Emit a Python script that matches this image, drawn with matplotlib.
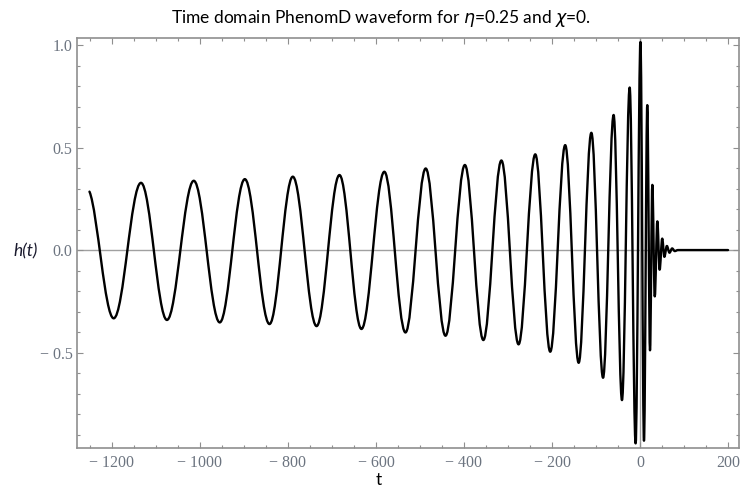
import matplotlib
matplotlib.use('Agg')
import matplotlib.pyplot as plt
from matplotlib.path import Path
from matplotlib.patches import PathPatch

# turning points of h(t): first sample, peaks/troughs, end of ringdown
t_points = [-1251, -1196, -1134, -1075, -1014, -955, -898, -842, -789, -735, -683,
            -633, -581, -533, -487, -442, -398, -356, -315, -276, -238, -204, -170,
            -139.4, -110.6, -84, -60, -41, -23.5, -10, 1, 9, 16.5, 22.7, 28, 33.5,
            39.4, 44.5, 50.5, 55.3, 61, 67, 73, 79, 86, 200]
h_points = [0.285, -0.333, 0.328, -0.341, 0.338, -0.353, 0.346, -0.361, 0.358, -0.371, 0.366,
            -0.385, 0.382, -0.402, 0.398, -0.418, 0.415, -0.439, 0.437, -0.460, 0.467, -0.496, 0.512,
            -0.550, 0.572, -0.623, 0.659, -0.732, 0.793, -0.943, 1.015, -0.930, 0.707, -0.489, 0.318, -0.226,
            0.140, -0.096, 0.056, -0.033, 0.020, -0.013, 0.008, -0.005, 0.0, 0.0]

xticks = [-1200, -1000, -800, -600, -400, -200, 0, 200]
xtick_labels = ['\u2212 1200', '\u2212 1000', '\u2212 800', '\u2212 600', '\u2212 400', '\u2212 200', '0', '200']
yticks = [-0.5, 0.0, 0.5, 1.0]
ytick_labels = ['\u2212 0.5', '0.0', '0.5', '1.0']

FRAME = '#8f8f8f'
LABEL = '#6c7480'


def waveform_path(ts, hs, k=0.3634):
    """Smooth curve through turning points: cubic Bezier segments with flat tangents at the extrema"""
    verts = [(ts[0], hs[0])]
    codes = [Path.MOVETO]
    for i in range(len(ts) - 1):
        t0, h0, t1, h1 = ts[i], hs[i], ts[i + 1], hs[i + 1]
        d = t1 - t0
        if i == 0:
            # first sample sits on a falling flank, not on an extremum
            c1 = (t0 + d / 3, h0 + 0.45 * (h1 - h0) / 3)
        else:
            c1 = (t0 + k * d, h0)
        c2 = (t1 - k * d, h1)
        verts += [c1, c2, (t1, h1)]
        codes += [Path.CURVE4] * 3
    return Path(verts, codes)


fig = plt.figure(figsize=(7.42, 4.93), dpi=100)
ax = fig.add_axes([0.1034, 0.0907, 0.8932, 0.8316])

ax.axhline(0, color='#a0a0a0', lw=1.0, zorder=1)
ax.axvline(0, color='#a0a0a0', lw=1.0, zorder=1)
ax.add_patch(PathPatch(waveform_path(t_points, h_points), fill=False,
                       edgecolor='black', lw=1.7, capstyle='round', joinstyle='round', zorder=3))

ax.set_xlim(-1280, 226)
ax.set_ylim(-0.967, 1.033)

ax.set_xticks(xticks)
ax.set_xticklabels(xtick_labels)
ax.set_xticks(range(-1250, 226, 50), minor=True)
ax.set_yticks(yticks)
ax.set_yticklabels(ytick_labels)
ax.set_yticks([v / 10 for v in range(-9, 11)], minor=True)

for s in ax.spines.values():
    s.set_color(FRAME)
    s.set_linewidth(1.2)
ax.tick_params(which='both', direction='in', top=True, right=True, color=FRAME, width=0.8,
               labelcolor=LABEL, labelsize=11.5)
ax.tick_params(which='major', length=4.5)
ax.tick_params(which='minor', length=2.5)
ax.tick_params(axis='x', which='major', pad=5)
ax.tick_params(axis='y', which='major', pad=3)
for lab in ax.get_xticklabels() + ax.get_yticklabels():
    lab.set_family(['Liberation Serif', 'DejaVu Serif'])

fig.text(0.514, 0.962, r'Time domain PhenomD waveform for $\mathit{\eta}$=0.25 and $\mathit{\chi}$=0.',
         ha='center', va='center', fontsize=12.5, family='Lato')
fig.text(0.51, 0.026, 't', ha='center', va='center', fontsize=12.5, family='Lato')
fig.text(0.035, 0.491, 'h(t)', ha='center', va='center', fontsize=12.5, family='Lato',
         style='italic', color='#1a1a2e')

fig.savefig('out.png', dpi=100)
